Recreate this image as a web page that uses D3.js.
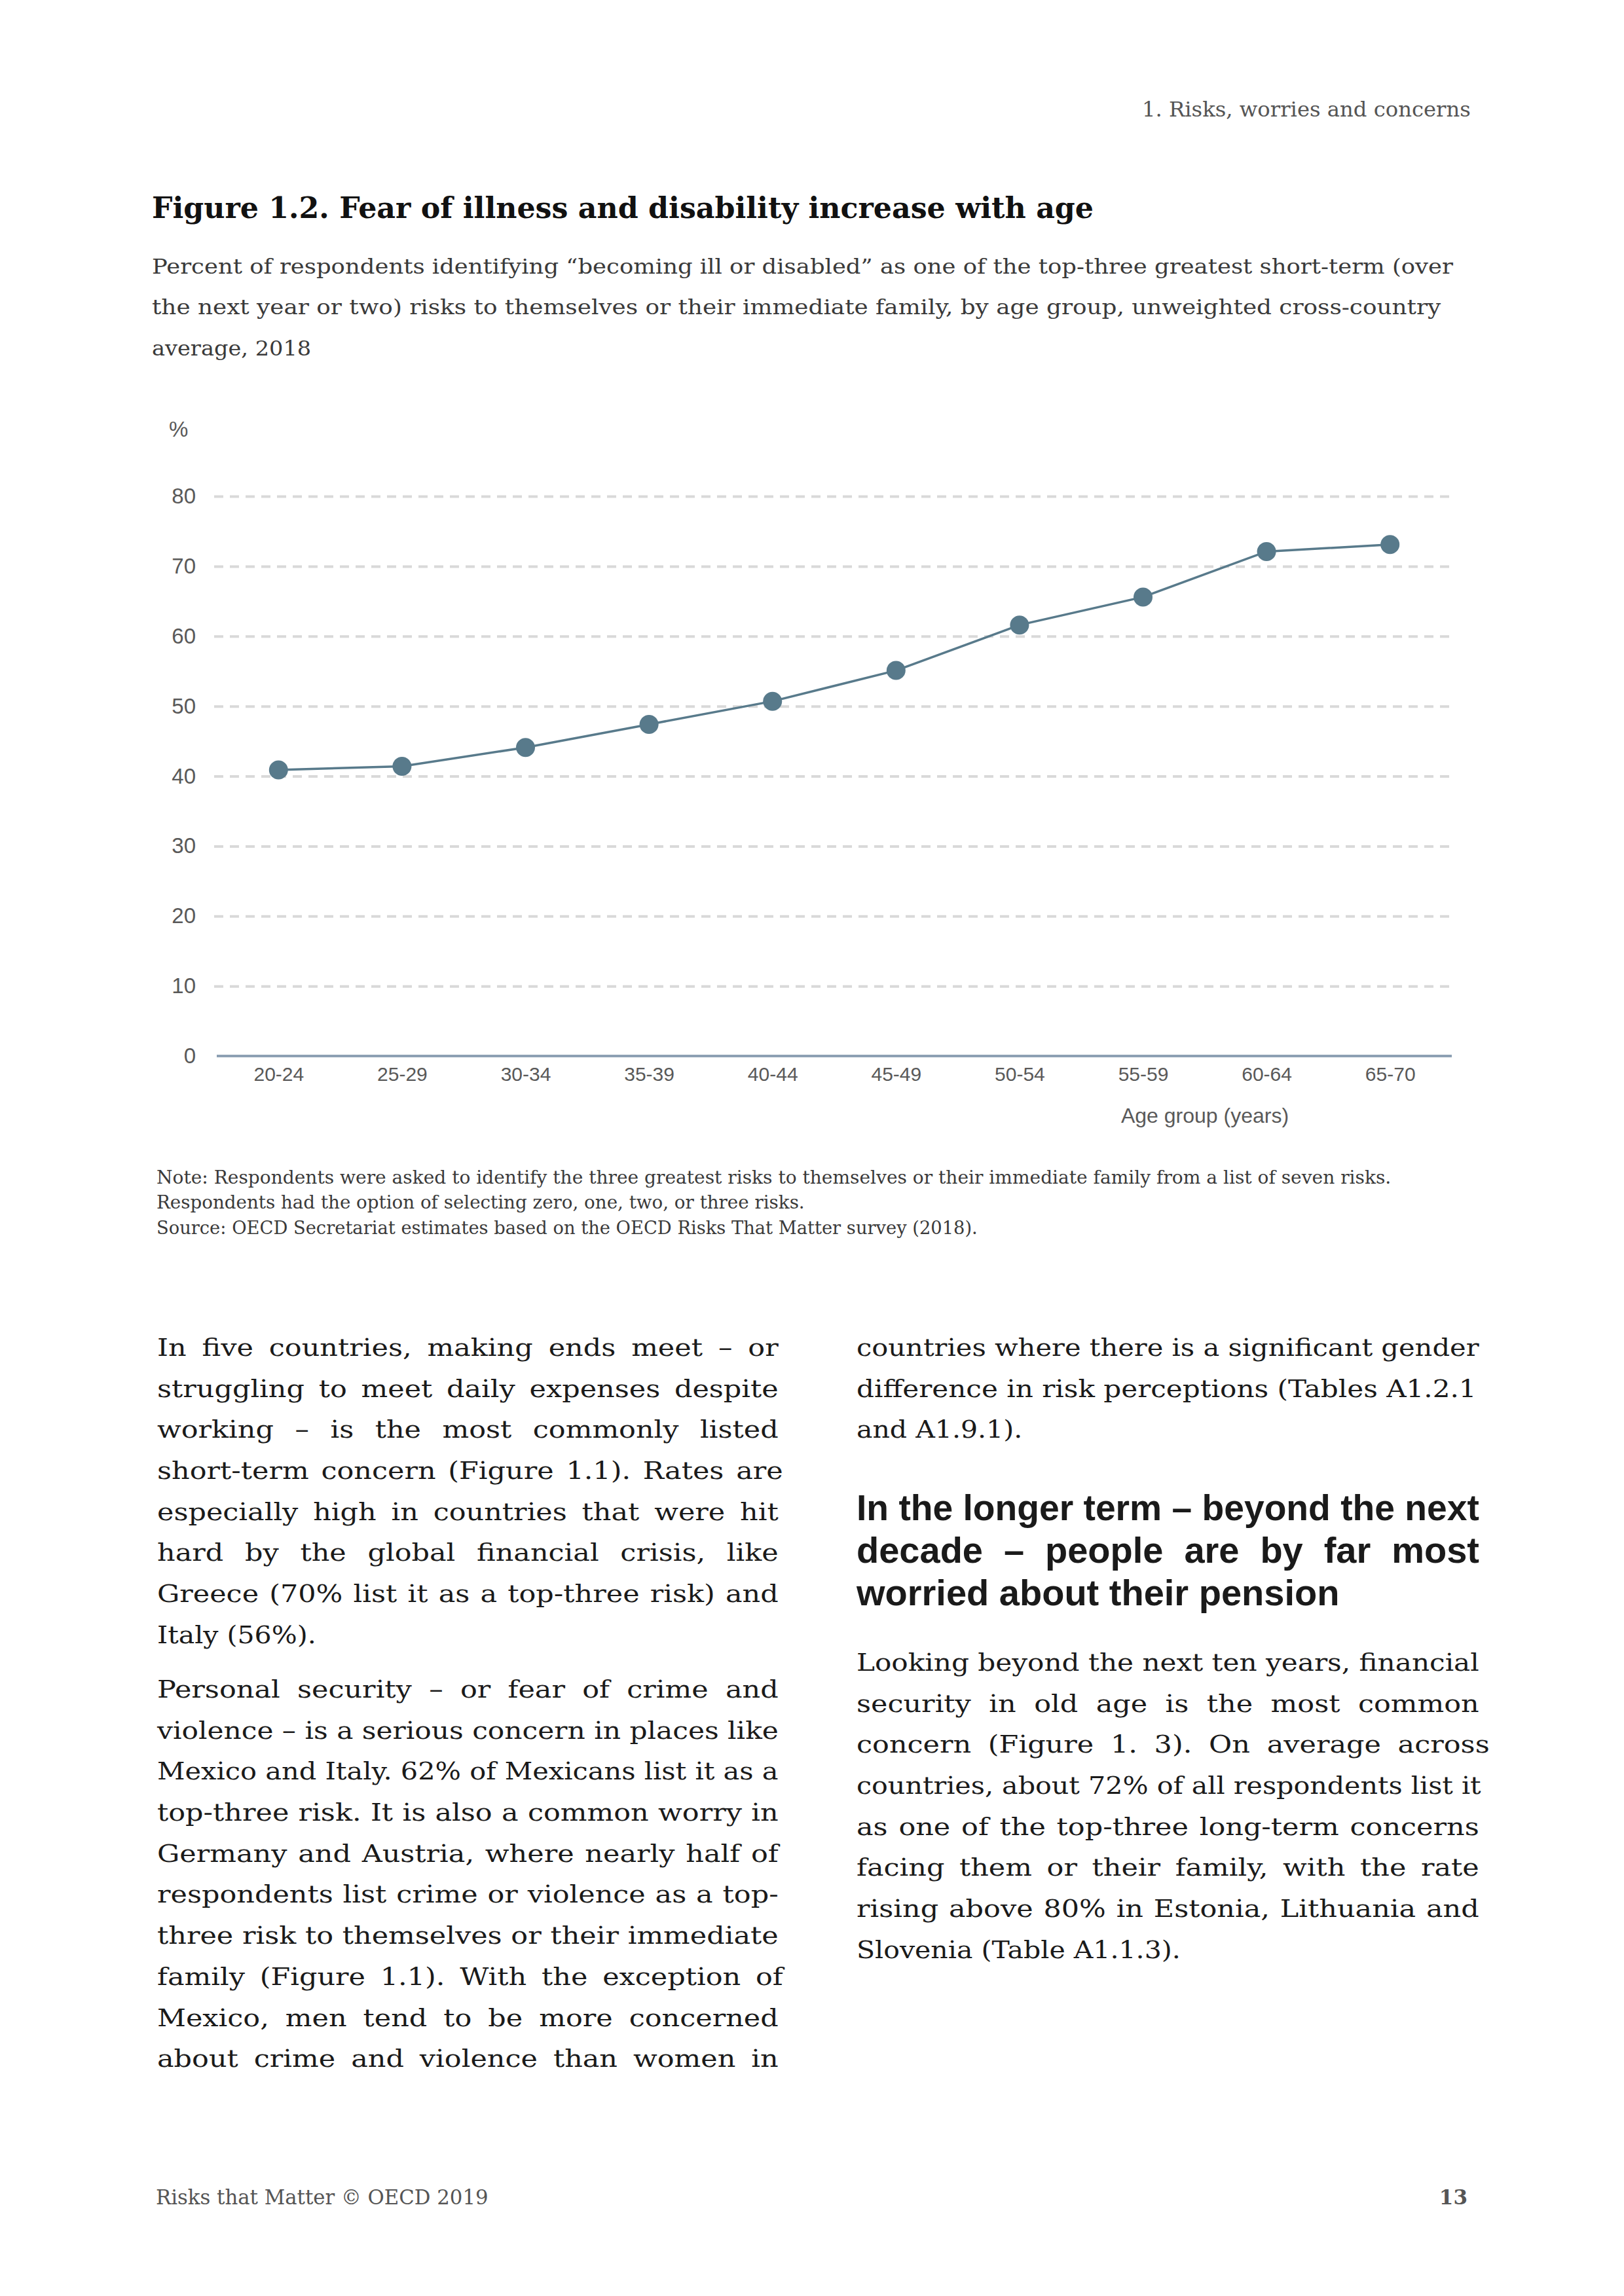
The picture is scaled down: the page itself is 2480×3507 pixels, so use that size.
<!DOCTYPE html>
<html>
<head>
<meta charset="utf-8">
<script src="https://cdn.jsdelivr.net/npm/d3@7"></script>
<style>
  html, body { margin: 0; padding: 0; background: #fff; }
  svg { display: block; }
</style>
</head>
<body>
<svg id="page" width="2480" height="3507"></svg>
<script>
// Chart data
const ageGroups = ["20-24", "25-29", "30-34", "35-39", "40-44", "45-49", "50-54", "55-59", "60-64", "65-70"];
const illnessShare = [40.9, 41.4, 44.1, 47.4, 50.7, 55.1, 61.6, 65.6, 72.1, 73.1];
const yTicks = [0, 10, 20, 30, 40, 50, 60, 70, 80];

// Page texts
const headerText = "1. Risks, worries and concerns";
const titleText = "Figure 1.2. Fear of illness and disability increase with age";
const subtitleLines = [
    "Percent of respondents identifying \u201cbecoming ill or disabled\u201d as one of the top-three greatest short-term (over",
    "the next year or two) risks to themselves or their immediate family, by age group, unweighted cross-country",
    "average, 2018"
];
const yUnit = "%";
const xTitle = "Age group (years)";
const noteLines = [
    "Note: Respondents were asked to identify the three greatest risks to themselves or their immediate family from a list of seven risks.",
    "Respondents had the option of selecting zero, one, two, or three risks.",
    "Source: OECD Secretariat estimates based on the OECD Risks That Matter survey (2018)."
];
const leftPara1 = [
    "In five countries, making ends meet \u2013 or",
    "struggling to meet daily expenses despite",
    "working \u2013 is the most commonly listed",
    "short-term concern (Figure 1.1). Rates are",
    "especially high in countries that were hit",
    "hard by the global financial crisis, like",
    "Greece (70% list it as a top-three risk) and",
    "Italy (56%)."
];
const leftPara2 = [
    "Personal security \u2013 or fear of crime and",
    "violence \u2013 is a serious concern in places like",
    "Mexico and Italy. 62% of Mexicans list it as a",
    "top-three risk. It is also a common worry in",
    "Germany and Austria, where nearly half of",
    "respondents list crime or violence as a top-",
    "three risk to themselves or their immediate",
    "family (Figure 1.1). With the exception of",
    "Mexico, men tend to be more concerned",
    "about crime and violence than women in"
];
const rightPara1 = [
    "countries where there is a significant gender",
    "difference in risk perceptions (Tables A1.2.1",
    "and A1.9.1)."
];
const headingLines = [
    "In the longer term \u2013 beyond the next",
    "decade \u2013 people are by far most",
    "worried about their pension"
];
const rightPara2 = [
    "Looking beyond the next ten years, financial",
    "security in old age is the most common",
    "concern (Figure 1. 3). On average across",
    "countries, about 72% of all respondents list it",
    "as one of the top-three long-term concerns",
    "facing them or their family, with the rate",
    "rising above 80% in Estonia, Lithuania and",
    "Slovenia (Table A1.1.3)."
];
const footerText = "Risks that Matter \u00a9 OECD 2019";
const pageNumber = "13";

const serif = "'DejaVu Serif', 'Liberation Serif', serif";
const sans = "'Liberation Sans', Arial, sans-serif";

const svg = d3.select("#page");
svg.append("rect").attr("width", 2480).attr("height", 3507).attr("fill", "#fff");

// Draw a block of lines. A line with an end is first widened (up to maxS),
// then justified with word spacing; other lines just get the default widening.
function drawLines(lines, opt) {
    const g = svg.append("g")
        .attr("font-family", opt.family)
        .attr("font-size", opt.size)
        .attr("font-weight", opt.weight || "normal")
        .attr("fill", opt.color);
    lines.forEach((line, i) => {
        const t = g.append("text")
            .attr("y", opt.y + i * opt.lh)
            .text(line);
        let s = opt.sx || 1;
        const end = opt.ends && opt.ends[i];
        if (end) {
            const w = t.node().getComputedTextLength();
            const target = end - opt.x;
            s = Math.min(target / w, opt.maxS || 1);
            const gaps = (line.match(/ /g) || []).length;
            if (gaps) t.attr("word-spacing", (target / s - w) / gaps);
            else s = target / w;
        }
        t.attr("x", opt.x / s).attr("transform", `scale(${s},1)`);
    });
    return g;
}

// Running header
drawLines([headerText], { x: 1744, y: 178, lh: 0, family: serif, size: 31,
    color: "#555", ends: [2246], maxS: 1.15 });

// Title and subtitle
svg.append("text")
    .attr("x", 232).attr("y", 333)
    .attr("font-family", serif).attr("font-size", 45).attr("font-weight", "bold")
    .attr("fill", "#111")
    .attr("textLength", 1670 - 232).attr("lengthAdjust", "spacingAndGlyphs")
    .text(titleText);
drawLines(subtitleLines, { x: 232, y: 418, lh: 62.5, family: serif, size: 32,
    color: "#3a3a3a", ends: [2219, 2201, null], sx: 1.05, maxS: 1.12 });

// Chart area
const x = d3.scalePoint().domain(ageGroups).range([331, 2217]).padding(0.5);
const y = d3.scaleLinear().domain([0, 80]).range([1613, 758]);

// y axis with dashed gridlines
const yAxis = svg.append("g")
    .attr("transform", "translate(327,0)")
    .call(d3.axisLeft(y).tickValues(yTicks).tickSize(-(2217 - 327)).tickPadding(28));
yAxis.select(".domain").remove();
yAxis.selectAll(".tick line")
    .attr("stroke", "#d9d9d9")
    .attr("stroke-width", 4)
    .attr("stroke-dasharray", "14,10")
    .attr("display", d => d === 0 ? "none" : null);
yAxis.selectAll(".tick text")
    .attr("font-family", sans).attr("font-size", 33).attr("fill", "#595959");

// x axis
const xAxis = svg.append("g")
    .attr("transform", "translate(0,1613)")
    .call(d3.axisBottom(x).tickSize(0).tickPadding(17));
xAxis.select(".domain")
    .attr("d", "M331,0H2217")
    .attr("stroke", "#8da0b3")
    .attr("stroke-width", 4);
xAxis.selectAll(".tick text")
    .attr("font-family", sans).attr("font-size", 30).attr("fill", "#595959");

// Unit and axis title
svg.append("text")
    .attr("x", 258).attr("y", 667)
    .attr("font-family", sans).attr("font-size", 33).attr("fill", "#595959")
    .text(yUnit);
svg.append("text")
    .attr("x", 1840).attr("y", 1715)
    .attr("text-anchor", "middle")
    .attr("font-family", sans).attr("font-size", 32).attr("fill", "#595959")
    .text(xTitle);

// Series line and markers
const points = ageGroups.map((a, i) => ({ age: a, value: illnessShare[i] }));
const lineGen = d3.line().x(d => x(d.age)).y(d => y(d.value));
svg.append("path")
    .datum(points)
    .attr("d", lineGen)
    .attr("fill", "none")
    .attr("stroke", "#587a8b")
    .attr("stroke-width", 3.5);
svg.append("g").selectAll("circle")
    .data(points)
    .join("circle")
    .attr("cx", d => x(d.age))
    .attr("cy", d => y(d.value))
    .attr("r", 14.5)
    .attr("fill", "#587a8b");

// Notes
drawLines(noteLines, { x: 239, y: 1808, lh: 38.5, family: serif, size: 27,
    color: "#3a3a3a", ends: [2125, 1229, 1493], maxS: 1.12 });

// Body text, left column
const body = { family: serif, size: 38, color: "#1a1a1a", lh: 62.7, sx: 1.08, maxS: 1.13 };
drawLines(leftPara1, { ...body, x: 240, y: 2071,
    ends: [1189, 1189, 1189, 1196, 1189, 1189, 1189, null] });
drawLines(leftPara2, { ...body, x: 240, y: 2593,
    ends: [1189, 1189, 1189, 1189, 1189, 1189, 1189, 1196, 1189, 1189] });

// Body text, right column
drawLines(rightPara1, { ...body, x: 1308, y: 2071, ends: [2259, 2255, null] });
drawLines(headingLines, { x: 1308, y: 2322, lh: 65, family: sans, size: 56, weight: "bold",
    color: "#1a1a1a", ends: [2259, 2259, null] });
drawLines(rightPara2, { ...body, x: 1308, y: 2552,
    ends: [2259, 2259, 2275, 2262, 2259, 2259, 2259, null] });

// Footer
drawLines([footerText], { x: 238, y: 3367, lh: 0, family: serif, size: 31,
    color: "#555", ends: [746], maxS: 1.15 });
svg.append("text")
    .attr("x", 2241).attr("y", 3367)
    .attr("text-anchor", "end")
    .attr("font-family", serif).attr("font-size", 31).attr("font-weight", "bold").attr("fill", "#555")
    .text(pageNumber);
</script>
</body>
</html>
